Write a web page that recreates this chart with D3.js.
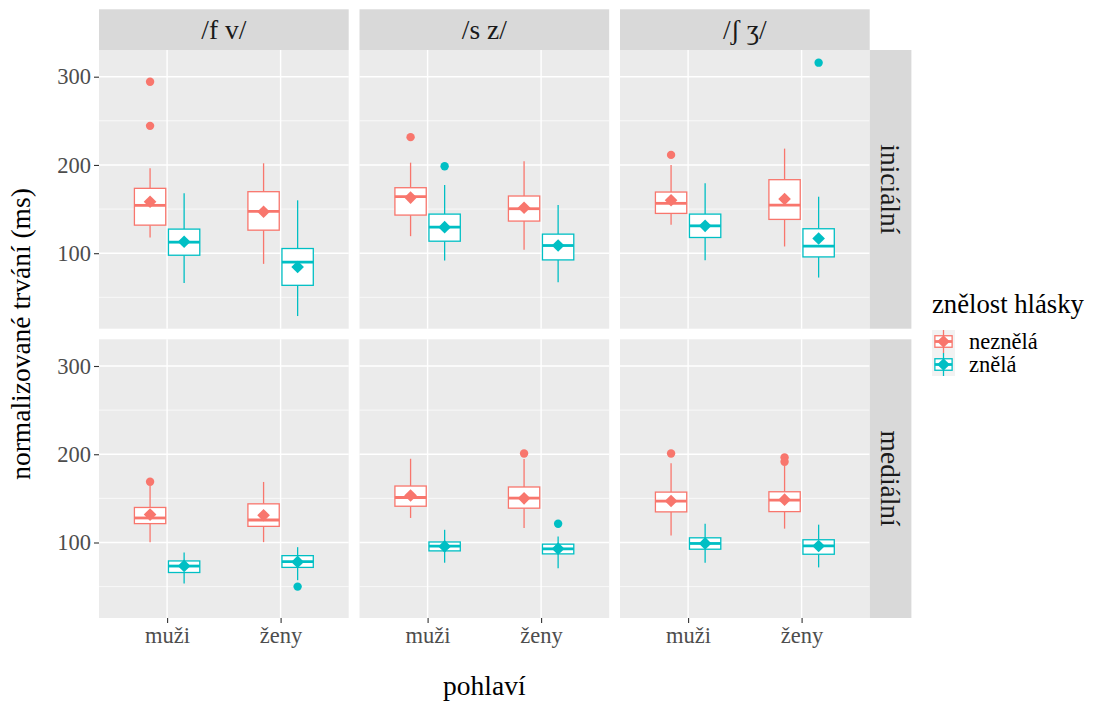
<!DOCTYPE html>
<html>
<head>
<meta charset="utf-8">
<script src="https://cdn.jsdelivr.net/npm/d3@7"></script>
<style>
  html, body { margin: 0; padding: 0; background: #ffffff; }
  svg { display: block; }
  text { font-family: "Liberation Serif", "Times New Roman", serif; }
</style>
</head>
<body>
<svg id="chart" width="1098" height="704"></svg>
<script>
// Facets and categories
const places = ["/f v/", "/s z/", "/ʃ ʒ/"];
const positions = ["iniciální", "mediální"];
const genders = ["muži", "ženy"];
const voicing = ["neznělá", "znělá"];
const yTicks = [100, 200, 300];
const yMinorTicks = [50, 150, 250];
const colors = ["#F8766D", "#00BFC4"];

// Box statistics (ms), one entry per box, ordered
// position → place → gender → voicing
const whiskerLow = [
  117.8, 66.3, 87.9, 28.8,   119.3, 91.7, 103.8, 67.0,   132.2, 92.0, 107.6, 72.4,
  100.4, 53.5, 100.4, 57.3,  127.8, 77.1, 116.4, 70.7,   108.0, 77.1, 115.7, 71.8
];
const q1 = [
  131.8, 97.7, 126.1, 63.6,  143.2, 113.6, 136.4, 92.4,  145.1, 117.8, 138.3, 95.8,
  121.4, 66.0, 118.3, 71.8,  141.1, 90.5, 138.9, 87.1,   134.7, 92.4, 135.0, 86.7
];
const median = [
  154.2, 112.5, 147.4, 89.8, 164.0, 129.5, 150.4, 108.7, 156.5, 131.0, 154.5, 108.0,
  127.8, 73.3, 125.5, 78.3,  151.0, 95.8, 150.3, 92.8,   146.9, 98.9, 148.0, 96.2
];
const q3 = [
  173.5, 127.3, 169.7, 105.3, 174.2, 144.3, 164.8, 121.6, 169.3, 144.3, 183.3, 127.7,
  139.7, 79.1, 143.8, 85.1,   164.0, 100.6, 162.9, 98.1,  157.1, 105.3, 157.5, 103.1
];
const whiskerHigh = [
  196.2, 167.8, 201.9, 159.9, 202.6, 177.3, 204.2, 154.5, 200.0, 179.2, 218.5, 164.0,
  164.0, 88.6, 168.6, 94.7,   194.9, 114.4, 194.5, 106.9, 189.9, 121.3, 186.9, 120.2
];
const means = [
  158.3, 113.0, 147.0, 84.4, 163.0, 129.5, 151.5, 108.7, 160.0, 131.0, 161.4, 116.7,
  131.6, 73.5, 130.9, 78.0,  153.3, 95.6, 150.0, 93.0,   147.0, 99.0, 148.5, 96.0
];
const outliers = [
  [294.3, 244.3], [], [], [],   [231.5], [198.5], [], [],   [211.4], [], [], [315.9],
  [168.9], [], [], [50.0],      [], [], [200.9], [121.3],   [200.9], [], [196.4, 191.4], []
];

// Flatten into box records
const boxes = [];
let k = 0;
positions.forEach((pos, r) => {
  places.forEach((pl, c) => {
    genders.forEach(g => {
      voicing.forEach((v, vi) => {
        boxes.push({
          row: r, col: c, gender: g, voice: vi,
          lo: whiskerLow[k], q1: q1[k], med: median[k], q3: q3[k], hi: whiskerHigh[k],
          mean: means[k], out: outliers[k]
        });
        k++;
      });
    });
  });
});

// Layout
const svg = d3.select("#chart");
const FONT = "Liberation Serif, Times New Roman, serif";
const smallSize = "22.5px", stripSize = "27.5px", titleSize = "27.5px";
const panelLeft0 = 99, panelW = 249.7, colStep = 260.5;
const panelTop0 = 50, panelH = 278.7, rowStep = 289.3;
const stripH = 40.7, stripW = 41.7;

// Shared y scale with 5% expansion
const allVals = boxes.flatMap(b => [b.lo, b.hi, ...b.out]);
const yMin = d3.min(allVals), yMax = d3.max(allVals);
const pad = (yMax - yMin) * 0.05;
const y = d3.scaleLinear().domain([yMin - pad, yMax + pad]).range([panelH, 0]);
const x = d3.scalePoint().domain(genders).range([0, panelW]).padding(0.6);
const step = x.step();
const dodge = 0.15 * step;
const boxW = 0.276 * step;

svg.append("rect").attr("width", 1098).attr("height", 704).attr("fill", "#ffffff");

const diamond = d3.symbol().type(d3.symbolSquare).size(80);

positions.forEach((pos, r) => {
  places.forEach((pl, c) => {
    const px = panelLeft0 + c * colStep;
    const py = panelTop0 + r * rowStep;
    const g = svg.append("g").attr("transform", `translate(${px},${py})`);

    g.append("rect").attr("width", panelW).attr("height", panelH).attr("fill", "#EBEBEB");

    // grid
    g.selectAll(".minor").data(yMinorTicks).enter().append("line")
      .attr("x1", 0).attr("x2", panelW)
      .attr("y1", d => y(d)).attr("y2", d => y(d))
      .attr("stroke", "#ffffff").attr("stroke-width", 0.7);
    g.selectAll(".major").data(yTicks).enter().append("line")
      .attr("x1", 0).attr("x2", panelW)
      .attr("y1", d => y(d)).attr("y2", d => y(d))
      .attr("stroke", "#ffffff").attr("stroke-width", 1.4);
    g.selectAll(".vmajor").data(genders).enter().append("line")
      .attr("x1", d => x(d)).attr("x2", d => x(d))
      .attr("y1", 0).attr("y2", panelH)
      .attr("stroke", "#ffffff").attr("stroke-width", 1.4);

    // boxes
    const panelBoxes = boxes.filter(b => b.row === r && b.col === c);
    panelBoxes.forEach(b => {
      const cx = x(b.gender) + (b.voice === 0 ? -dodge : dodge);
      const col = colors[b.voice];
      const bg = g.append("g");
      bg.append("line").attr("x1", cx).attr("x2", cx)
        .attr("y1", y(b.hi)).attr("y2", y(b.q3))
        .attr("stroke", col).attr("stroke-width", 1.3);
      bg.append("line").attr("x1", cx).attr("x2", cx)
        .attr("y1", y(b.q1)).attr("y2", y(b.lo))
        .attr("stroke", col).attr("stroke-width", 1.3);
      bg.append("rect")
        .attr("x", cx - boxW / 2).attr("width", boxW)
        .attr("y", y(b.q3)).attr("height", y(b.q1) - y(b.q3))
        .attr("fill", "#ffffff").attr("stroke", col).attr("stroke-width", 1.3);
      bg.append("line").attr("x1", cx - boxW / 2).attr("x2", cx + boxW / 2)
        .attr("y1", y(b.med)).attr("y2", y(b.med))
        .attr("stroke", col).attr("stroke-width", 2.8);
      b.out.forEach(o => {
        bg.append("circle").attr("cx", cx).attr("cy", y(o)).attr("r", 4.2).attr("fill", col);
      });
      bg.append("path").attr("d", diamond())
        .attr("transform", `translate(${cx},${y(b.mean)}) rotate(45)`)
        .attr("fill", col);
    });

    // y axis on first column
    if (c === 0) {
      const ax = g.append("g").call(d3.axisLeft(y).tickValues(yTicks).tickSize(5).tickPadding(3));
      ax.select(".domain").remove();
      ax.selectAll("line").attr("stroke", "#333333").attr("stroke-width", 1.1);
      ax.selectAll("text").attr("fill", "#4D4D4D").attr("font-size", smallSize)
        .attr("font-family", FONT);
    }
    // x axis on bottom row
    if (r === positions.length - 1) {
      const ax = g.append("g").attr("transform", `translate(0,${panelH})`)
        .call(d3.axisBottom(x).tickSize(5).tickPadding(4));
      ax.select(".domain").remove();
      ax.selectAll("line").attr("stroke", "#333333").attr("stroke-width", 1.1);
      ax.selectAll("text").attr("fill", "#4D4D4D").attr("font-size", smallSize)
        .attr("font-family", FONT);
    }

    // top strips
    if (r === 0) {
      svg.append("rect").attr("x", px).attr("y", panelTop0 - stripH)
        .attr("width", panelW).attr("height", stripH).attr("fill", "#D9D9D9");
      svg.append("text").attr("x", px + panelW / 2).attr("y", panelTop0 - stripH / 2)
        .attr("dy", "0.35em").attr("text-anchor", "middle").attr("font-family", FONT)
        .attr("font-size", stripSize).attr("fill", "#1A1A1A").text(pl);
    }
    // right strips
    if (c === places.length - 1) {
      const sx = px + panelW;
      svg.append("rect").attr("x", sx).attr("y", py)
        .attr("width", stripW).attr("height", panelH).attr("fill", "#D9D9D9");
      svg.append("text")
        .attr("transform", `translate(${sx + stripW / 2},${py + panelH / 2}) rotate(90)`)
        .attr("dy", "0.35em").attr("text-anchor", "middle").attr("font-family", FONT)
        .attr("font-size", stripSize).attr("fill", "#1A1A1A").text(pos);
    }
  });
});

// Axis titles
const plotMidX = panelLeft0 + (colStep * 2 + panelW) / 2;
const plotMidY = panelTop0 + (rowStep + panelH) / 2;
svg.append("text").attr("x", plotMidX).attr("y", 695)
  .attr("text-anchor", "middle").attr("font-family", FONT)
  .attr("font-size", titleSize).attr("fill", "#000")
  .text("pohlaví");
svg.append("text").attr("transform", `translate(30,${plotMidY}) rotate(-90)`)
  .attr("text-anchor", "middle").attr("font-family", FONT)
  .attr("font-size", titleSize).attr("fill", "#000")
  .text("normalizované trvání (ms)");

// Legend
const lg = svg.append("g").attr("transform", "translate(932,0)");
lg.append("text").attr("x", 0).attr("y", 313).attr("font-family", FONT)
  .attr("font-size", "26.7px").attr("fill", "#000")
  .text("znělost hlásky");
const keyS = 23;
voicing.forEach((v, i) => {
  const ky = 330 + i * keyS;
  const col = colors[i];
  const kg = lg.append("g").attr("transform", `translate(0,${ky})`);
  kg.append("rect").attr("width", keyS).attr("height", keyS).attr("fill", "#F2F2F2");
  kg.append("line").attr("x1", keyS / 2).attr("x2", keyS / 2).attr("y1", 0).attr("y2", keyS)
    .attr("stroke", col).attr("stroke-width", 1.3);
  kg.append("rect").attr("x", keyS * 0.125).attr("y", keyS * 0.25)
    .attr("width", keyS * 0.75).attr("height", keyS * 0.5)
    .attr("fill", "#ffffff").attr("stroke", col).attr("stroke-width", 1.3);
  kg.append("line").attr("x1", keyS * 0.125).attr("x2", keyS * 0.875)
    .attr("y1", keyS / 2).attr("y2", keyS / 2).attr("stroke", col).attr("stroke-width", 2.8);
  kg.append("path").attr("d", diamond())
    .attr("transform", `translate(${keyS / 2},${keyS / 2}) rotate(45)`).attr("fill", col);
  lg.append("text").attr("x", 37).attr("y", ky + keyS / 2).attr("dy", "0.35em")
    .attr("font-family", FONT).attr("font-size", smallSize).attr("fill", "#000").text(v);
});
</script>
</body>
</html>
